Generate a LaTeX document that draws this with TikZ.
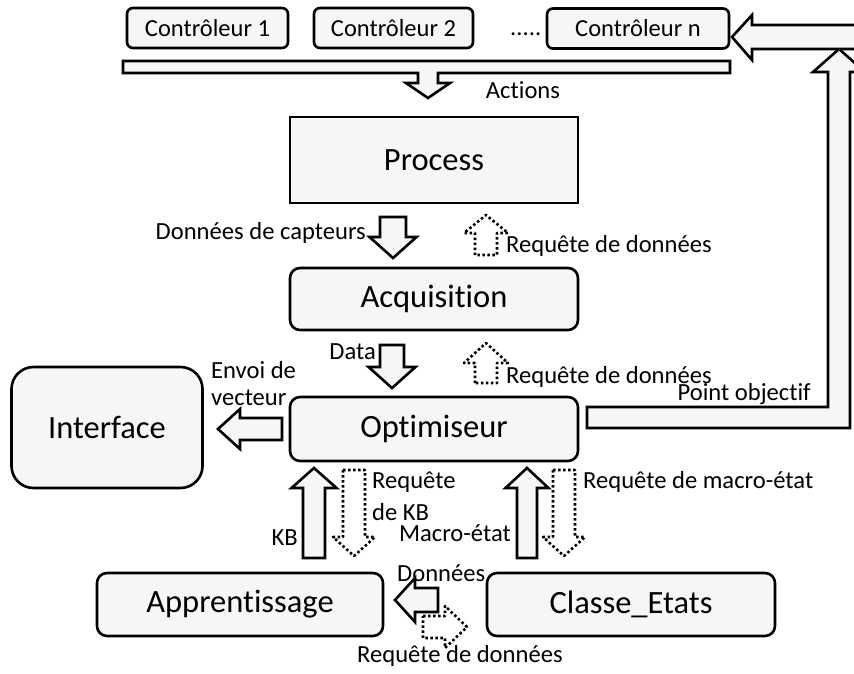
\documentclass[tikz,border=0pt]{standalone}
\usepackage{fontspec}
\setmainfont{Carlito}[Ligatures=NoCommon]
\definecolor{boxfill}{RGB}{246,246,246}
\newcommand{\vbarrow}[7]{\draw[#1] ({#2-#6},#3) -- ({#2-#6},#4) -- ({#2-#7},#4) -- (#2,#5) -- ({#2+#7},#4) -- ({#2+#6},#4) -- ({#2+#6},#3) -- cycle;}
\newcommand{\hbarrow}[7]{\draw[#1] (#3,{#2-#6}) -- (#4,{#2-#6}) -- (#4,{#2-#7}) -- (#5,#2) -- (#4,{#2+#7}) -- (#4,{#2+#6}) -- (#3,{#2+#6}) -- cycle;}
\begin{document}
\begin{tikzpicture}[x=1pt,y=-1pt,
  box/.style={draw=black, line width=2.6pt, fill=boxfill, rounded corners=#1, inner sep=0pt, font=\fontsize{32.5}{38}\selectfont},
  box/.default=10pt,
  sbox/.style={box=6pt, font=\fontsize{24.5}{29}\selectfont, minimum height=40pt},
  lbl/.style={inner sep=0pt, font=\fontsize{24.6}{29}\selectfont},
  barrow/.style={draw=black, line width=2.6pt, fill=boxfill, line join=miter},
  darrow/.style={draw=black, line width=2.6pt, fill=white, dash pattern=on 2.5pt off 2.5pt, line join=round}
]
\clip (0,0) rectangle (854,674);
\fill[white] (0,0) rectangle (854,674);

% controllers
\node[sbox, minimum width=161pt] (c1) at (207.5,28) {Contrôleur 1};
\node[sbox, minimum width=159pt] (c2) at (393.5,28) {Contrôleur 2};
\node[lbl, anchor=base west] (dots) at (510,36) {.....};
\node[sbox, minimum width=182pt] (cn) at (638,28.5) {Contrôleur n};

% bar with Actions arrow
\draw[barrow] (123,61) -- (730,61) -- (730,73) -- (438,73) -- (438,83) -- (450,83) -- (428,98)
  -- (406,83) -- (418,83) -- (418,73) -- (123,73) -- cycle;
\node[lbl] (actions) at (523,90) {Actions};

% main boxes
\node[box=0pt, minimum width=288pt, minimum height=86pt] (process) at (434,160) {Process};
\node[box, minimum width=288pt, minimum height=62pt] (acq) at (434,299) {Acquisition};
\node[box, minimum width=288pt, minimum height=64pt] (opt) at (434,429) {Optimiseur};
\node[box=22pt, minimum width=191pt, minimum height=121pt] (iface) at (107,427.5) {Interface};
\node[box, minimum width=286pt, minimum height=63pt] (appr) at (240,604.5) {Apprentissage};
\node[box, minimum width=288pt, minimum height=63pt] (classe) at (631,604.5) {Classe\_Etats};

% feedback arrow (Point objectif)
\draw[barrow] (587,407) -- (828,407) -- (828,72) -- (813,72) -- (839,49) -- (865,72) -- (850,72)
  -- (850,428) -- (587,428) -- cycle;
\draw[barrow] (732,37) -- (752,15) -- (752,25) -- (870,25) -- (870,49) -- (752,49) -- (752,60) -- cycle;
\node[lbl, anchor=east] (pobj) at (811,394) {Point objectif};

% process <-> acquisition
\vbarrow{barrow}{393}{217}{237}{258}{13}{23.5}
\node[lbl, anchor=east] (ldc) at (366,233) {Données de capteurs};
\vbarrow{darrow}{486}{255}{233}{215}{11}{22}
\node[lbl, anchor=west] (lrq1) at (506,246) {Requête de données};

% acquisition <-> optimiseur
\vbarrow{barrow}{392}{345}{367}{388}{12}{23.5}
\node[lbl, anchor=east] (ldata) at (376,352) {Data};
\vbarrow{darrow}{486}{383}{363}{343}{11}{22}
\node[lbl, anchor=west] (lrq2) at (506,377) {Requête de données};

% optimiseur -> interface
\hbarrow{barrow}{429}{282}{240}{218}{11}{20}
\node[lbl, anchor=west] (lenv1) at (211,370) {Envoi de};
\node[lbl, anchor=west] (lenv2) at (211,398) {vecteur};

% optimiseur <-> apprentissage
\vbarrow{barrow}{314}{558}{488}{468}{11}{22.5}
\node[lbl, anchor=east] (lkb) at (298,538) {KB};
\vbarrow{darrow}{354}{470}{537}{556}{11}{21}
\node[lbl, anchor=west] (lrkb1) at (372,482) {Requête};
\node[lbl, anchor=west] (lrkb2) at (372,512) {de KB};

% optimiseur <-> classe
\vbarrow{barrow}{527}{558}{488}{468}{10}{21.5}
\node[lbl, anchor=east] (lme) at (511,533) {Macro-état};
\vbarrow{darrow}{564}{470}{537}{556}{11}{21}
\node[lbl, anchor=west] (lrme) at (583,482) {Requête de macro-état};

% classe <-> apprentissage
\hbarrow{darrow}{627}{423}{445}{467}{11}{21}
\hbarrow{barrow}{600}{438}{415}{395}{12}{22}
\node[lbl, anchor=west] (ldon) at (397,573) {Données};
\node[lbl, anchor=west] (lrq3) at (357,656) {Requête de données};
\end{tikzpicture}
\end{document}
